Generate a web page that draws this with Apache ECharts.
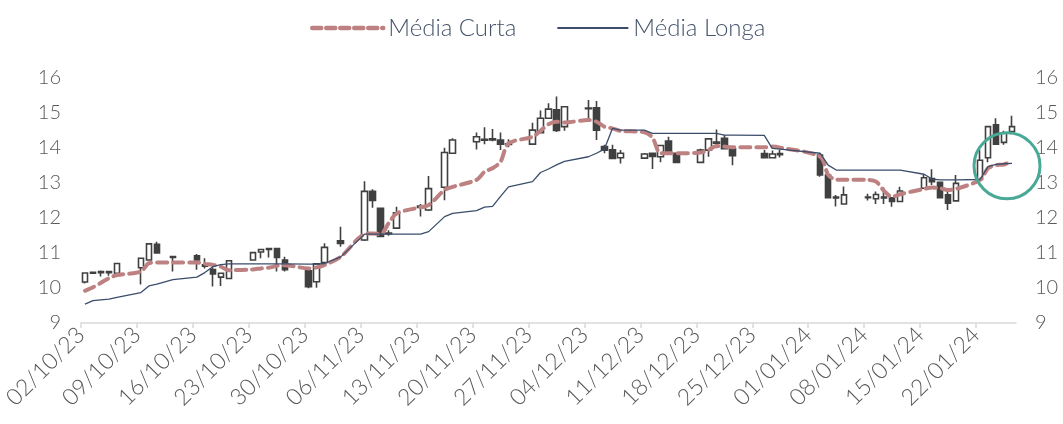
<!DOCTYPE html>
<html><head><meta charset="utf-8">
<script src="https://cdn.jsdelivr.net/npm/echarts@6/dist/echarts.min.js"></script>
<style>html,body{margin:0;padding:0;background:#fff}#c{width:1063px;height:424px}</style>
</head><body><div id="c"></div>
<script>
const tradeDates = ['2023-10-02','2023-10-03','2023-10-04','2023-10-05','2023-10-06','2023-10-09','2023-10-10','2023-10-11','2023-10-13','2023-10-16','2023-10-17','2023-10-18','2023-10-19','2023-10-20','2023-10-23','2023-10-24','2023-10-25','2023-10-26','2023-10-27','2023-10-30','2023-10-31','2023-11-01','2023-11-03','2023-11-06','2023-11-07','2023-11-08','2023-11-09','2023-11-10','2023-11-13','2023-11-14','2023-11-16','2023-11-17','2023-11-20','2023-11-21','2023-11-22','2023-11-23','2023-11-24','2023-11-27','2023-11-28','2023-11-29','2023-11-30','2023-12-01','2023-12-04','2023-12-05','2023-12-06','2023-12-07','2023-12-08','2023-12-11','2023-12-12','2023-12-13','2023-12-14','2023-12-15','2023-12-18','2023-12-19','2023-12-20','2023-12-21','2023-12-22','2023-12-26','2023-12-27','2023-12-28','2024-01-02','2024-01-03','2024-01-04','2024-01-05','2024-01-08','2024-01-09','2024-01-10','2024-01-11','2024-01-12','2024-01-15','2024-01-16','2024-01-17','2024-01-18','2024-01-19','2024-01-22','2024-01-23','2024-01-24','2024-01-25','2024-01-26'];
const openV  = [10.17,10.45,10.47,10.47,10.42,10.58,10.80,11.25,10.90,10.92,10.66,10.53,10.31,10.27,10.80,11.03,11.10,11.13,10.80,10.49,10.18,10.73,11.35,11.37,12.76,12.28,11.55,11.71,12.30,12.23,12.88,13.85,14.18,14.22,14.26,14.23,14.12,14.11,14.44,14.85,15.09,14.61,15.12,15.15,14.04,13.95,13.72,13.71,13.85,13.75,14.20,13.85,13.59,13.94,14.14,14.28,13.98,13.84,13.72,13.84,13.80,13.23,12.60,12.40,12.58,12.55,12.60,12.58,12.47,12.85,13.13,13.02,12.66,12.49,13.10,13.72,14.66,14.16,14.47];
const closeV = [10.43,10.42,10.44,10.44,10.70,10.85,11.26,11.00,10.87,10.80,10.62,10.40,10.42,10.78,11.01,11.10,11.13,10.87,10.52,10.04,10.69,11.16,11.27,12.76,12.50,11.47,11.57,12.15,12.34,12.84,13.87,14.23,14.32,14.25,14.23,14.11,14.10,14.51,14.85,15.11,14.50,15.18,15.14,14.51,13.94,13.70,13.85,13.83,13.76,14.07,13.90,13.59,13.94,14.26,14.17,13.98,13.78,13.72,13.83,13.81,13.23,12.58,12.57,12.66,12.60,12.67,12.57,12.47,12.77,13.15,13.04,12.58,12.42,12.99,13.65,14.61,14.11,14.42,14.61];
const lowV   = [10.13,10.40,10.33,10.35,10.41,10.10,10.78,10.98,10.47,10.52,10.56,10.04,10.06,10.26,10.79,10.85,10.87,10.47,10.47,9.99,10.01,10.72,11.18,11.34,12.29,11.45,11.49,11.70,12.04,12.20,12.51,13.84,13.96,14.11,14.19,13.94,14.02,14.10,14.42,14.84,14.46,14.49,14.85,14.23,13.85,13.69,13.56,13.70,13.40,13.59,13.89,13.58,13.58,13.75,13.99,13.97,13.51,13.71,13.71,13.73,13.18,12.56,12.33,12.39,12.50,12.40,12.40,12.32,12.46,12.84,12.94,12.57,12.23,12.48,13.05,13.59,14.10,14.09,14.46];
const highV  = [10.45,10.47,10.50,10.49,10.71,10.86,11.28,11.32,10.92,10.97,10.85,10.59,10.43,10.80,11.02,11.11,11.14,11.15,10.89,10.50,10.70,11.28,11.75,13.05,12.82,12.29,11.65,12.32,12.40,13.20,14.01,14.28,14.44,14.59,14.54,14.44,14.25,14.72,15.07,15.28,15.47,15.19,15.37,15.34,14.09,14.09,13.94,13.86,13.87,14.08,14.32,13.86,13.98,14.27,14.53,14.37,13.99,13.94,13.93,13.94,13.85,13.24,12.66,12.90,12.69,12.76,12.88,12.60,12.89,13.23,13.39,13.03,12.80,13.23,13.95,14.62,14.85,14.49,14.92];
const shortMA = [9.92,10.02,10.15,10.28,10.37,10.47,10.71,10.73,10.73,10.73,10.69,10.66,10.61,10.51,10.53,10.56,10.58,10.63,10.65,10.56,10.59,10.66,10.89,11.54,11.56,11.54,11.85,12.13,12.31,12.37,12.80,12.89,13.09,13.32,13.42,13.61,14.13,14.32,14.49,14.68,14.75,14.73,14.80,14.75,14.61,14.56,14.49,14.45,14.30,13.85,13.85,13.85,13.87,13.94,14.06,14.04,14.02,14.02,14.04,14.01,13.75,13.23,13.10,13.09,13.09,13.04,12.77,12.61,12.68,12.83,12.87,12.85,12.80,12.83,13.09,13.42,13.51,13.53,13.63];
const longMA  = [9.54,9.64,9.66,9.68,9.73,9.87,10.06,10.11,10.24,10.31,10.44,10.61,10.67,10.69,10.69,10.69,10.69,10.69,10.69,10.68,10.68,10.70,10.89,11.54,11.54,11.54,11.54,11.54,11.54,11.61,12.04,12.13,12.21,12.31,12.33,12.62,12.89,13.04,13.30,13.40,13.52,13.62,13.75,13.85,13.97,14.56,14.51,14.51,14.42,14.42,14.42,14.42,14.42,14.42,14.42,14.37,14.37,14.36,13.99,13.97,13.85,13.51,13.37,13.37,13.37,13.37,13.37,13.37,13.37,13.25,13.11,13.09,13.09,13.09,13.10,13.47,13.53,13.55,13.56];
const weekLabels = ['02/10/23','09/10/23','16/10/23','23/10/23','30/10/23','06/11/23','13/11/23','20/11/23','27/11/23','04/12/23','11/12/23','18/12/23','25/12/23','01/01/24','08/01/24','15/01/24','22/01/24'];
const yTicks = [9,10,11,12,13,14,15,16];

// calendar of all days from first to last trading day (date axis, like the original)
const DAY = 86400000;
const toMs = s => { const p = s.split('-').map(Number); return Date.UTC(p[0], p[1]-1, p[2]); };
const t0 = toMs(tradeDates[0]), t1 = toMs(tradeDates[tradeDates.length-1]);
const calendar = [];
for (let t = t0; t <= t1; t += DAY) calendar.push(new Date(t).toISOString().slice(0,10));
const boundaries = calendar.concat(['end']);
const idx = d => calendar.indexOf(d);

const candleData = tradeDates.map((d,i) => [idx(d), openV[i], closeV[i], lowV[i], highV[i]]);
const shortData = tradeDates.map((d,i) => [idx(d), shortMA[i]]);
const longData = tradeDates.map((d,i) => [idx(d), longMA[i]]);

const FONT = 'Lato';
const chart = echarts.init(document.getElementById('c'));
chart.setOption({
  animation: false,
  backgroundColor: '#fff',
  legend: {
    data: [
      { name: 'Média Curta', lineStyle: { type: [9, 5], width: 4.5 } },
      { name: 'Média Longa' }
    ],
    left: 305, top: 11,
    itemWidth: 71, itemHeight: 14, itemGap: 40,
    itemStyle: { opacity: 0 },
    textStyle: { fontFamily: FONT, fontSize: 24, color: '#44546a', fontWeight: 300 }
  },
  grid: { left: 80, right: 47, top: 78, bottom: 101 },
  xAxis: [
    { type: 'category', data: calendar, boundaryGap: true, show: false },
    { type: 'category', data: boundaries, boundaryGap: false, position: 'bottom',
      axisLine: { lineStyle: { color: '#d9d9d9', width: 1.5 } },
      axisTick: { show: true, length: 5, interval: i => i % 7 === 0, lineStyle: { color: '#d9d9d9', width: 1.5 } },
      axisLabel: { rotate: 45, margin: 8, interval: i => i % 7 === 0,
        formatter: (v, i) => (i % 7 === 0 && weekLabels[i/7]) ? weekLabels[i/7] : '',
        fontFamily: FONT, fontSize: 23, color: '#595959', fontWeight: 300 },
      splitLine: { show: false } }
  ],
  yAxis: [
    { type: 'value', min: yTicks[0], max: yTicks[yTicks.length-1], interval: 1, position: 'left',
      axisLine: { show: false }, axisTick: { show: false }, splitLine: { show: false },
      axisLabel: { margin: 20, fontFamily: FONT, fontSize: 20, color: '#595959', fontWeight: 300 } },
    { type: 'value', min: yTicks[0], max: yTicks[yTicks.length-1], interval: 1, position: 'right',
      axisLine: { show: false }, axisTick: { show: false }, splitLine: { show: false },
      axisLabel: { margin: 19, fontFamily: FONT, fontSize: 20, color: '#595959', fontWeight: 300 } }
  ],
  series: [
    { name: 'Cotação', type: 'candlestick', xAxisIndex: 0, yAxisIndex: 0,
      data: candleData, encode: { x: 0, y: [1,2,3,4] }, barWidth: 6,
      itemStyle: { color: '#ffffff', color0: '#404040', borderColor: '#404040', borderColor0: '#404040', borderWidth: 1.6 },
      z: 2 },
    { name: 'Média Curta', type: 'line', xAxisIndex: 0, yAxisIndex: 0, data: shortData,
      symbol: 'none', smooth: 0.3, z: 3,
      lineStyle: { color: '#be8181', width: 4, type: [10, 6], cap: 'round' },
      itemStyle: { color: '#be8181' } },
    { name: 'Média Longa', type: 'line', xAxisIndex: 0, yAxisIndex: 0, data: longData,
      symbol: 'none', z: 4,
      lineStyle: { color: '#3b4d6b', width: 1.3 },
      itemStyle: { color: '#3b4d6b' },
      markPoint: { silent: true, symbol: 'circle', symbolSize: 66, symbolOffset: [3, 0],
        label: { show: false },
        itemStyle: { color: 'rgba(0,0,0,0)', borderColor: '#4aa897', borderWidth: 3 },
        data: [{ coord: [idx('2024-01-25'), 13.49] }] } }
  ]
});
</script></body></html>
